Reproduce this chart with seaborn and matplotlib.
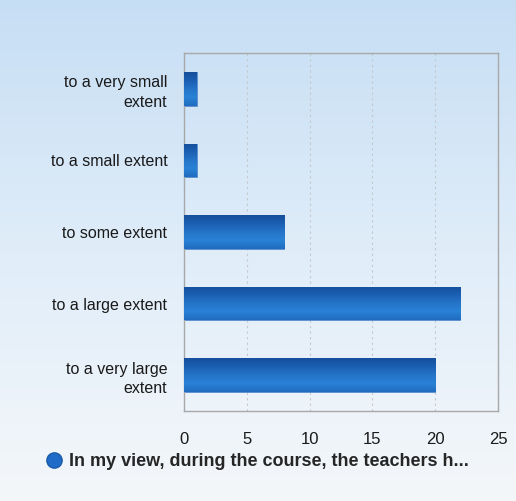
import numpy as np
import pandas as pd
import matplotlib
matplotlib.use("Agg")
import matplotlib.pyplot as plt
import seaborn as sns
from matplotlib.lines import Line2D
from matplotlib.colors import LinearSegmentedColormap

categories = ["to a very small\nextent", "to a small extent", "to some extent",
              "to a large extent", "to a very large\nextent"]
counts = [1, 1, 8, 22, 20]
x_ticks = [0, 5, 10, 15, 20, 25]
legend_label = "In my view, during the course, the teachers h..."

df = pd.DataFrame({"category": categories, "count": counts})

sns.set_theme(style="white")
plt.rcParams["font.family"] = ["Liberation Sans", "DejaVu Sans"]

fig = plt.figure(figsize=(5.16, 5.01), dpi=100)

# background gradient (light blue top -> near white bottom)
bg = fig.add_axes([0, 0, 1, 1], zorder=-10)
bg_cmap = LinearSegmentedColormap.from_list("bg", ["#f4f7fa", "#e0edf9", "#c6def4"])
bg.imshow(np.linspace(0, 1, 256).reshape(-1, 1), aspect="auto", cmap=bg_cmap,
          origin="lower", extent=[0, 1, 0, 1])
bg.axis("off")

ax = fig.add_axes([0.3566, 0.1796, 0.6084, 0.7144])
ax.patch.set_alpha(0)
sns.barplot(data=df, x="count", y="category", color="#1f68bf", width=0.47,
            ax=ax, orient="h")

# gradient fill of bars
bar_cmap = LinearSegmentedColormap.from_list(
    "bar", ["#16509c", "#1b5fb2", "#2474c8", "#2a82d6", "#1f6cc0"])
grad = np.linspace(0, 1, 64).reshape(-1, 1)
for p in ax.patches:
    x0, y0 = p.get_x(), p.get_y()
    w, h = p.get_width(), p.get_height()
    im = ax.imshow(grad, aspect="auto", cmap=bar_cmap, origin="upper",
                   extent=[x0, x0 + w, y0 + h, y0], zorder=3)
    im.set_clip_path(p)
    p.set_edgecolor("#5a8fd0")
    p.set_linewidth(0.6)

ax.set_xlim(0, 25)
ax.set_ylim(4.5, -0.5)
ax.set_xticks(x_ticks)
ax.set_xlabel("")
ax.set_ylabel("")
ax.xaxis.grid(True, linestyle=(0, (2, 3)), color="#c4c8cc", linewidth=0.8)
ax.set_axisbelow(True)
for s in ax.spines.values():
    s.set_visible(True)
    s.set_color("#a8a8a8")
    s.set_linewidth(1)
ax.tick_params(axis="y", length=0, pad=12, labelsize=11.5, labelcolor="#1a1a1a")
ax.tick_params(axis="x", length=0, pad=15, labelsize=12, labelcolor="#1a1a1a")
for t in ax.get_yticklabels():
    t.set_horizontalalignment("right")
    t.set_multialignment("right")
    t.set_linespacing(1.35)

handle = Line2D([], [], marker="o", linestyle="none", markersize=11,
                markerfacecolor="#1f6cc8", markeredgecolor="#1a5aa8")
fig.legend([handle], [legend_label], loc="center", bbox_to_anchor=(0.5, 0.078),
           frameon=False, handletextpad=0.45, handlelength=0.8,
           prop={"weight": "bold", "size": 13})

fig.savefig("out.png", dpi=100)
